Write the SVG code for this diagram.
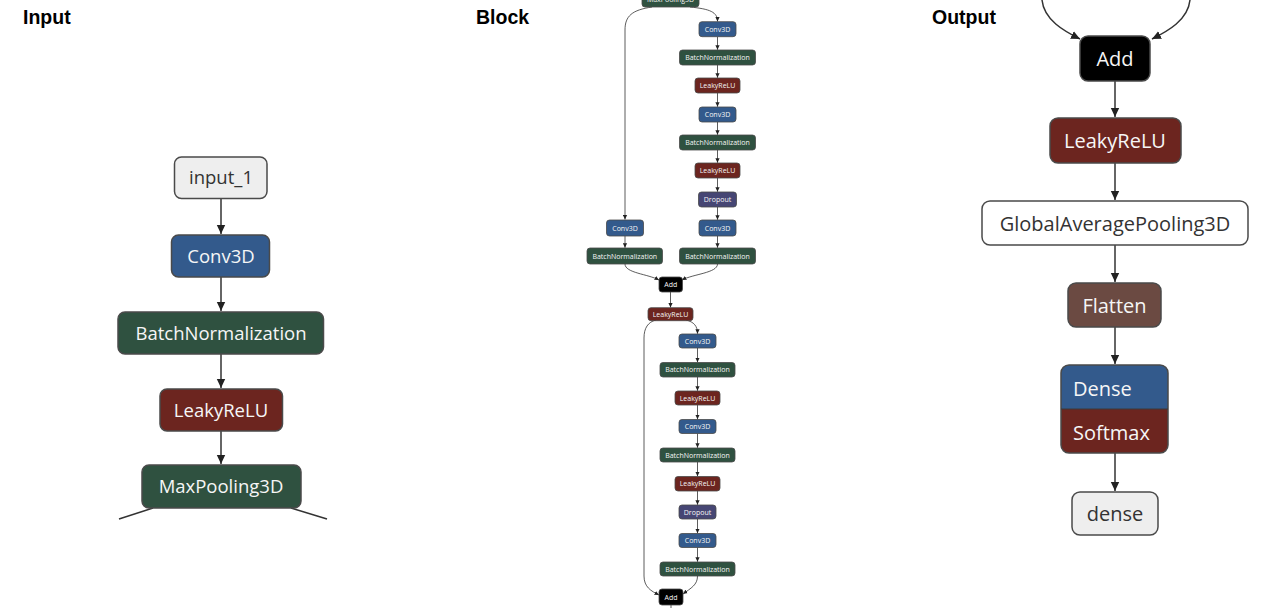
<svg xmlns="http://www.w3.org/2000/svg" width="1286" height="608" viewBox="0 0 1286 608">
<defs>
<style>
.title{font-family:"Liberation Sans",Arial,sans-serif;font-weight:bold;font-size:19.5px;fill:#000}
.n{stroke:#4a4a4a;stroke-width:1.5}
.ns{stroke:#4a4a4a;stroke-width:0.8}
.conv{fill:#335a8c}
.bn{fill:#2f5140}
.relu{fill:#6c251f}
.drop{fill:#464674}
.flat{fill:#6b4a42}
.add{fill:#000}
.io{fill:#eeeeee}
.wh{fill:#ffffff}
.tl{font-family:"Open Sans","Noto Sans",sans-serif;fill:#f6f6f6;text-anchor:middle}
.td{font-family:"Open Sans","Noto Sans",sans-serif;fill:#333;text-anchor:middle}
.big{font-size:18.5px}
.out{font-size:20px}
.sm{font-size:7px}
.e{fill:none;stroke:#333;stroke-width:1.5}
.es{fill:none;stroke:#333;stroke-width:0.8}
</style>
<marker id="ah" markerUnits="userSpaceOnUse" markerWidth="10" markerHeight="10" refX="9" refY="5" orient="auto">
<path d="M0,0.8 L9,5 L0,9.2 z" fill="#222"/>
</marker>
<marker id="as" markerUnits="userSpaceOnUse" markerWidth="5" markerHeight="5" refX="4.5" refY="2.5" orient="auto">
<path d="M0,0.4 L4.5,2.5 L0,4.6 z" fill="#222"/>
</marker>
<clipPath id="dclip"><rect x="1061" y="365" width="107" height="88" rx="8"/></clipPath>
</defs>
<rect width="1286" height="608" fill="#ffffff"/>

<text class="title" x="23" y="24">Input</text>
<text class="title" x="476" y="24">Block</text>
<text class="title" x="932" y="24">Output</text>

<g id="connectors">
<!-- input column -->
<path class="e" d="M221 198 L221 234" marker-end="url(#ah)"/>
<path class="e" d="M221 277 L221 311" marker-end="url(#ah)"/>
<path class="e" d="M221 354 L221 388" marker-end="url(#ah)"/>
<path class="e" d="M221 431 L221 464" marker-end="url(#ah)"/>
<path class="e" d="M153 508 L119 519"/>
<path class="e" d="M291 508 L327 519"/>
<!-- block 1 -->
<path class="es" d="M652 7 C632 10 625 16 625 30 L625 219.5" marker-end="url(#as)"/>
<path class="es" d="M690 7 C710 9 717.5 12 717.5 21.5" marker-end="url(#as)"/>
<path class="es" d="M717.5 36.7 L717.5 49.8" marker-end="url(#as)"/>
<path class="es" d="M717.5 65 L717.5 77.8" marker-end="url(#as)"/>
<path class="es" d="M717.5 93 L717.5 106.8" marker-end="url(#as)"/>
<path class="es" d="M717.5 122 L717.5 134.8" marker-end="url(#as)"/>
<path class="es" d="M717.5 150 L717.5 162.8" marker-end="url(#as)"/>
<path class="es" d="M717.5 178 L717.5 191.8" marker-end="url(#as)"/>
<path class="es" d="M717.5 207 L717.5 219.8" marker-end="url(#as)"/>
<path class="es" d="M717.5 236 L717.5 247.8" marker-end="url(#as)"/>
<path class="es" d="M625 236 L625 247.8" marker-end="url(#as)"/>
<path class="es" d="M625 264 C625 273 648 274 659 280" marker-end="url(#as)"/>
<path class="es" d="M717.5 264 C717.5 273 693 274 682 280" marker-end="url(#as)"/>
<path class="es" d="M670.5 292 L670.5 307.5" marker-end="url(#as)"/>
<!-- block 2 -->
<path class="es" d="M656 320 C648 322 644 328 644 338 L644 576 C644 587 651 591 659 595" marker-end="url(#as)"/>
<path class="es" d="M686 320 C694 322 697.5 326 697.5 333.8" marker-end="url(#as)"/>
<path class="es" d="M697.5 348 L697.5 362.3" marker-end="url(#as)"/>
<path class="es" d="M697.5 377 L697.5 390.8" marker-end="url(#as)"/>
<path class="es" d="M697.5 405 L697.5 419.3" marker-end="url(#as)"/>
<path class="es" d="M697.5 433.5 L697.5 447.8" marker-end="url(#as)"/>
<path class="es" d="M697.5 462 L697.5 476.3" marker-end="url(#as)"/>
<path class="es" d="M697.5 491 L697.5 504.8" marker-end="url(#as)"/>
<path class="es" d="M697.5 519 L697.5 533.3" marker-end="url(#as)"/>
<path class="es" d="M697.5 547.5 L697.5 561.8" marker-end="url(#as)"/>
<path class="es" d="M697.5 576 C697.5 585 691 588 683 594" marker-end="url(#as)"/>
<path class="es" d="M671 605 L671 608"/>
<!-- output column -->
<path class="e" d="M1042 0 C1044 20 1064 31 1080 39" marker-end="url(#ah)"/>
<path class="e" d="M1190 0 C1188 20 1168 31 1152 39" marker-end="url(#ah)"/>
<path class="e" d="M1115 81 L1115 117" marker-end="url(#ah)"/>
<path class="e" d="M1115 163 L1115 200" marker-end="url(#ah)"/>
<path class="e" d="M1115 245 L1115 282" marker-end="url(#ah)"/>
<path class="e" d="M1115 327 L1115 364" marker-end="url(#ah)"/>
<path class="e" d="M1115 453 L1115 491" marker-end="url(#ah)"/>
</g>

<!-- Input column -->
<g id="in_input_1"><rect class="n io" x="174.5" y="157" width="92.5" height="41.5" rx="7"/><text class="td big" x="221" y="184">input_1</text></g>
<g id="in_conv3d"><rect class="n conv" x="171.5" y="235" width="98" height="42" rx="7"/><text class="tl big" x="221" y="263">Conv3D</text></g>
<g id="in_bn"><rect class="n bn" x="118" y="312" width="205.5" height="42" rx="7"/><text class="tl big" x="221" y="340">BatchNormalization</text></g>
<g id="in_relu"><rect class="n relu" x="160" y="389" width="122.5" height="42" rx="7"/><text class="tl big" x="221" y="417">LeakyReLU</text></g>
<g id="in_maxpool"><rect class="n bn" x="142" y="465" width="159" height="43" rx="7"/><text class="tl big" x="221" y="493">MaxPooling3D</text></g>

<!-- Block 1 -->
<g id="b_maxpool"><rect class="ns bn" x="642" y="-8" width="57" height="15" rx="3"/><text class="tl sm" x="670.5" y="2">MaxPooling3D</text></g>
<g id="b1_conv_a"><rect class="ns conv" x="699" y="21.7" width="37" height="15" rx="3"/><text class="tl sm" x="717.5" y="31.7">Conv3D</text></g>
<g id="b1_bn_a"><rect class="ns bn" x="679.5" y="50" width="76" height="15" rx="3"/><text class="tl sm" x="717.5" y="60">BatchNormalization</text></g>
<g id="b1_relu_a"><rect class="ns relu" x="695" y="78" width="45" height="15" rx="3"/><text class="tl sm" x="717.5" y="88">LeakyReLU</text></g>
<g id="b1_conv_b"><rect class="ns conv" x="699" y="107" width="37" height="15" rx="3"/><text class="tl sm" x="717.5" y="117">Conv3D</text></g>
<g id="b1_bn_b"><rect class="ns bn" x="679.5" y="135" width="76" height="15" rx="3"/><text class="tl sm" x="717.5" y="145">BatchNormalization</text></g>
<g id="b1_relu_b"><rect class="ns relu" x="695" y="163" width="45" height="15" rx="3"/><text class="tl sm" x="717.5" y="173">LeakyReLU</text></g>
<g id="b1_dropout"><rect class="ns drop" x="698.5" y="192" width="38" height="15" rx="3"/><text class="tl sm" x="717.5" y="202">Dropout</text></g>
<g id="b1_conv_c"><rect class="ns conv" x="699" y="220" width="37" height="16" rx="3"/><text class="tl sm" x="717.5" y="230.5">Conv3D</text></g>
<g id="b1_bn_c"><rect class="ns bn" x="679.5" y="248" width="76" height="16" rx="3"/><text class="tl sm" x="717.5" y="258.5">BatchNormalization</text></g>
<g id="b1_conv_s"><rect class="ns conv" x="606.5" y="220" width="37" height="16" rx="3"/><text class="tl sm" x="625" y="230.5">Conv3D</text></g>
<g id="b1_bn_s"><rect class="ns bn" x="587" y="248" width="75.5" height="16" rx="3"/><text class="tl sm" x="624.8" y="258.5">BatchNormalization</text></g>
<g id="b1_add"><rect class="ns add" x="659" y="277" width="23.5" height="15" rx="3"/><text class="tl sm" x="670.8" y="287">Add</text></g>

<!-- Block 2 -->
<g id="b2_relu_in"><rect class="ns relu" x="648" y="307.7" width="45" height="13" rx="3"/><text class="tl sm" x="670.5" y="316.7">LeakyReLU</text></g>
<g id="b2_conv_a"><rect class="ns conv" x="679" y="334" width="37" height="14" rx="3"/><text class="tl sm" x="697.5" y="343.5">Conv3D</text></g>
<g id="b2_bn_a"><rect class="ns bn" x="660" y="362.5" width="75" height="14.5" rx="3"/><text class="tl sm" x="697.5" y="372">BatchNormalization</text></g>
<g id="b2_relu_a"><rect class="ns relu" x="675" y="391" width="45" height="14" rx="3"/><text class="tl sm" x="697.5" y="400.5">LeakyReLU</text></g>
<g id="b2_conv_b"><rect class="ns conv" x="679" y="419.5" width="37" height="14" rx="3"/><text class="tl sm" x="697.5" y="429">Conv3D</text></g>
<g id="b2_bn_b"><rect class="ns bn" x="660" y="448" width="75" height="14" rx="3"/><text class="tl sm" x="697.5" y="457.5">BatchNormalization</text></g>
<g id="b2_relu_b"><rect class="ns relu" x="675" y="476.5" width="45" height="14.5" rx="3"/><text class="tl sm" x="697.5" y="486">LeakyReLU</text></g>
<g id="b2_dropout"><rect class="ns drop" x="679" y="505" width="37" height="14" rx="3"/><text class="tl sm" x="697.5" y="514.5">Dropout</text></g>
<g id="b2_conv_c"><rect class="ns conv" x="679" y="533.5" width="37" height="14" rx="3"/><text class="tl sm" x="697.5" y="543">Conv3D</text></g>
<g id="b2_bn_c"><rect class="ns bn" x="660" y="562" width="75" height="14" rx="3"/><text class="tl sm" x="697.5" y="571.5">BatchNormalization</text></g>
<g id="b2_add"><rect class="ns add" x="659" y="589" width="24" height="16" rx="3"/><text class="tl sm" x="671" y="599.5">Add</text></g>

<!-- Output column -->
<g id="out_add"><rect class="n add" x="1080" y="36" width="70" height="45" rx="8"/><text class="tl out" x="1115" y="66">Add</text></g>
<g id="out_relu"><rect class="n relu" x="1050" y="118" width="131" height="45" rx="8"/><text class="tl out" x="1115" y="148">LeakyReLU</text></g>
<g id="out_gap"><rect class="n wh" x="982" y="201" width="266" height="44" rx="8"/><text class="td out" x="1115" y="230.5">GlobalAveragePooling3D</text></g>
<g id="out_flatten"><rect class="n flat" x="1068" y="283" width="93" height="44" rx="8"/><text class="tl out" x="1114.5" y="312.5">Flatten</text></g>
<g id="out_dense">
<g clip-path="url(#dclip)">
<rect class="conv" x="1061" y="365" width="107" height="44"/>
<rect class="relu" x="1061" y="409" width="107" height="44"/>
</g>
<rect x="1061" y="365" width="107" height="88" rx="8" fill="none" stroke="#4a4a4a" stroke-width="1.5"/>
<line x1="1061" y1="409" x2="1168" y2="409" stroke="#3a3a3a" stroke-width="1"/>
<text class="tl out" x="1073" y="395.5" text-anchor="start" style="text-anchor:start">Dense</text>
<text class="tl out" x="1073" y="439.5" style="text-anchor:start">Softmax</text>
</g>
<g id="out_dense_out"><rect class="n io" x="1072" y="492" width="86" height="43" rx="8"/><text class="td out" x="1115" y="521">dense</text></g>
</svg>
